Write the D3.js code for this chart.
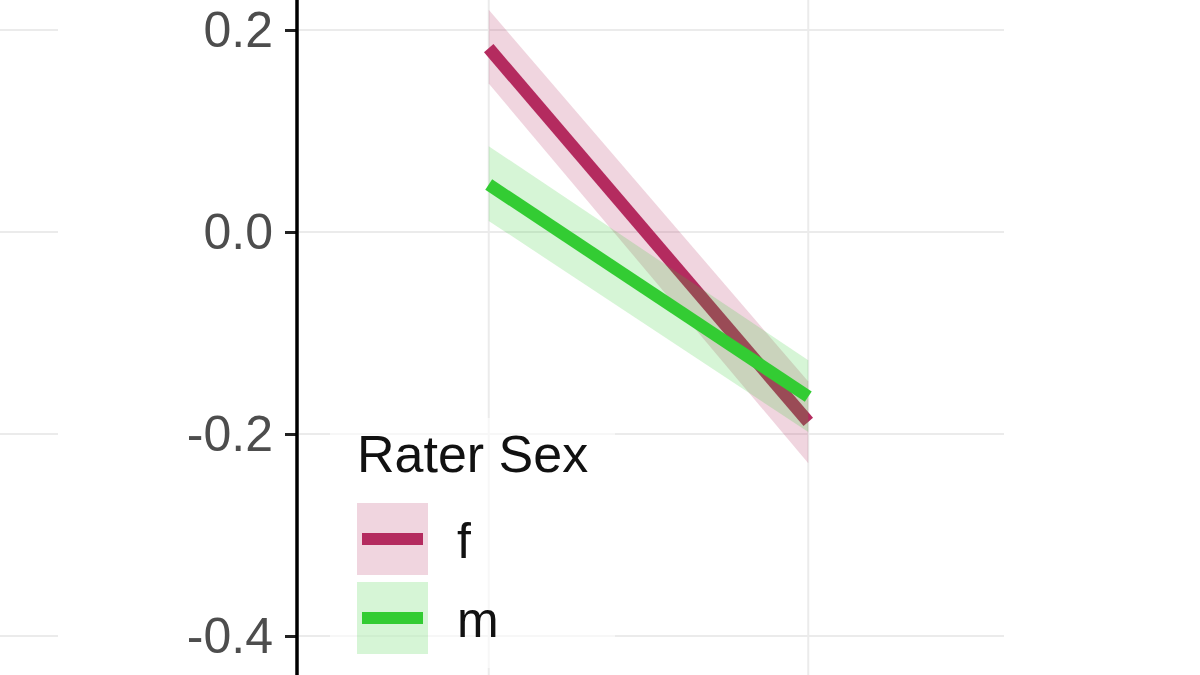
<!DOCTYPE html>
<html>
<head>
<meta charset="utf-8">
<script src="https://cdn.jsdelivr.net/npm/d3@7"></script>
<style>
  body { margin: 0; background: #fff; }
  svg { display: block; font-family: "Liberation Sans", Arial, sans-serif; }
</style>
</head>
<body>
<div id="container"></div>
<script>
/* DATA */
const xLevels = ["low", "high"];
const sexes = ["f", "m"];
const fitF = [0.182, -0.188];
const lowF = [0.147, -0.229];
const highF = [0.220, -0.148];
const fitM = [0.047, -0.163];
const lowM = [0.011, -0.198];
const highM = [0.085, -0.127];
const yTicks = [0.2, 0.0, -0.2, -0.4];
const legendTitle = "Rater Sex";

/* CONSTANTS */
const width = 1200;
const height = 675;
const colors = { f: "#b42b5f", m: "#33cc33" };

const series = [
  { key: "f", fit: fitF, low: lowF, high: highF },
  { key: "m", fit: fitM, low: lowM, high: highM }
];

/* SCALES */
// discrete x with ggplot-like expansion of 0.6
const xScale = d3.scalePoint()
  .domain(xLevels)
  .range([297, 1000])
  .padding(0.6);

const yScale = d3.scaleLinear()
  .domain([-0.4, 0.2])
  .range([636, 30]);

/* SVG */
const svg = d3.select("#container")
  .append("svg")
  .attr("width", width)
  .attr("height", height);

// gridlines of the panel on the left (cut off)
svg.append("g")
  .selectAll("line")
  .data(yTicks)
  .join("line")
  .attr("x1", 0)
  .attr("x2", 58)
  .attr("y1", d => yScale(d))
  .attr("y2", d => yScale(d))
  .attr("stroke", "#ebebeb")
  .attr("stroke-width", 2);

// main panel gridlines
const grid = svg.append("g");
grid.selectAll("line.h")
  .data(yTicks)
  .join("line")
  .attr("class", "h")
  .attr("x1", 299)
  .attr("x2", 1004)
  .attr("y1", d => yScale(d))
  .attr("y2", d => yScale(d))
  .attr("stroke", "#ebebeb")
  .attr("stroke-width", 2);
grid.selectAll("line.v")
  .data(xLevels)
  .join("line")
  .attr("class", "v")
  .attr("x1", d => xScale(d))
  .attr("x2", d => xScale(d))
  .attr("y1", 0)
  .attr("y2", height)
  .attr("stroke", "#ebebeb")
  .attr("stroke-width", 2);

// ribbons + lines
const area = d3.area()
  .x((d, i) => xScale(xLevels[i]))
  .y0(d => yScale(d[0]))
  .y1(d => yScale(d[1]));

const line = d3.line()
  .x((d, i) => xScale(xLevels[i]))
  .y(d => yScale(d));

series.forEach(s => {
  svg.append("path")
    .datum(s.low.map((v, i) => [v, s.high[i]]))
    .attr("d", area)
    .attr("fill", colors[s.key])
    .attr("fill-opacity", 0.2);
  svg.append("path")
    .datum(s.fit)
    .attr("d", line)
    .attr("fill", "none")
    .attr("stroke", colors[s.key])
    .attr("stroke-width", 12.5);
});

// y axis
const yAxisGroup = svg.append("g")
  .attr("transform", "translate(297,0)")
  .call(d3.axisLeft(yScale)
    .tickValues(yTicks)
    .tickFormat(d => d.toFixed(1))
    .tickSize(12)
    .tickSizeOuter(0)
    .tickPadding(12));
yAxisGroup.select(".domain").remove();
yAxisGroup.selectAll(".tick line")
  .attr("stroke", "#222")
  .attr("stroke-width", 3);
yAxisGroup.selectAll(".tick text")
  .attr("fill", "#4d4d4d")
  .attr("font-size", 50)
  .attr("font-family", "'Liberation Sans', Arial, sans-serif");
yAxisGroup.append("line")
  .attr("x1", 0).attr("x2", 0)
  .attr("y1", yScale(0.24)).attr("y2", yScale(-0.45))
  .attr("stroke", "#000")
  .attr("stroke-width", 3.5);

/* LEGEND */
const legend = svg.append("g").attr("transform", "translate(330,418)");
legend.append("rect")
  .attr("width", 285)
  .attr("height", 250)
  .attr("fill", "#fff")
  .attr("fill-opacity", 0.6);
legend.append("text")
  .attr("x", 27)
  .attr("y", 54)
  .attr("font-size", 52)
  .attr("fill", "#111")
  .text(legendTitle);

const keys = legend.selectAll("g.key")
  .data(sexes)
  .join("g")
  .attr("class", "key")
  .attr("transform", (d, i) => `translate(27,${85 + i * 79})`);
keys.append("rect")
  .attr("width", 71)
  .attr("height", 72)
  .attr("fill", d => colors[d])
  .attr("fill-opacity", 0.2);
keys.append("line")
  .attr("x1", 5).attr("x2", 66)
  .attr("y1", 36).attr("y2", 36)
  .attr("stroke", d => colors[d])
  .attr("stroke-width", 12);
keys.append("text")
  .attr("x", 100)
  .attr("y", 55)
  .attr("font-size", 50)
  .attr("fill", "#111")
  .text(d => d);
</script>
</body>
</html>
